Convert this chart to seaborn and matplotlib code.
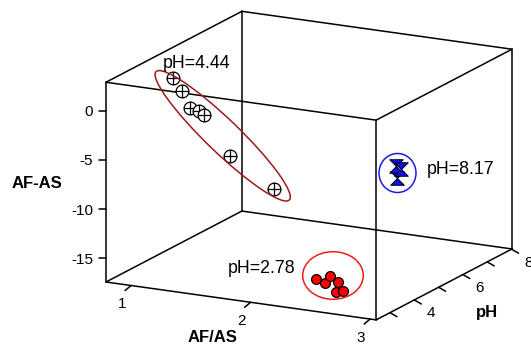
import numpy as np
import matplotlib
matplotlib.use("Agg")
import matplotlib.pyplot as plt
import matplotlib.transforms as mtransforms
from matplotlib.patches import Ellipse
from matplotlib.lines import Line2D
from matplotlib.path import Path
from mpl_toolkits.mplot3d import proj3d
import seaborn as sns

W, H = 531, 348

# AF/AS ratio and AF-AS difference per sample, grouped by pH
ratio_ph444 = [0.94, 1.02, 1.08, 1.16, 1.20, 1.42, 1.79]
diff_ph444 = [1.0, -0.15, -1.8, -2.0, -2.3, -6.1, -8.85]
ratio_ph278 = [2.48, 2.59, 2.55, 2.66, 2.64, 2.70]
diff_ph278 = [-14.7, -14.2, -15.0, -14.7, -15.7, -15.5]
ratio_ph817 = [2.05, 2.09, 2.06]
diff_ph817 = [-10.85, -11.1, -12.1]
ph_values = [4.44, 2.78, 8.17]

XLIM = (0.79, 3.05)
YLIM = (2.43, 8.02)
ZLIM = (-17.4, 2.9)
x_ticks = [1, 2, 3]
y_ticks = [3, 4, 5, 6, 7, 8]
y_ticklabels = ["", "4", "", "6", "", "8"]
z_ticks = [0, -5, -10, -15]

sns.set_theme(style="white")
plt.rcParams["font.family"] = ["Liberation Sans", "DejaVu Sans"]
plt.rcParams["text.color"] = "black"

fig = plt.figure(figsize=(W / 100, H / 100), dpi=100)
ax = fig.add_axes([0, 0, 1, 1], projection="3d", proj_type="ortho",
                  computed_zorder=False)
ax.view_init(elev=15.7, azim=-62.6)
ax.set_box_aspect((305, 296, 208))
ax.set_xlim(*XLIM)
ax.set_ylim(*YLIM)
ax.set_zlim(*ZLIM)
ax.set_axis_off()

# place the box so that its corners land where the reference has them
fig.canvas.draw()
M = ax.get_proj()


def frac(x, y, z):
    xs = np.atleast_1d(np.asarray(x, dtype=float))
    ys = np.broadcast_to(np.asarray(y, dtype=float), xs.shape)
    zs = np.broadcast_to(np.asarray(z, dtype=float), xs.shape)
    px, py, _ = proj3d.proj_transform(xs, ys, zs, M)
    return ax.transLimits.transform(np.column_stack([px, py]))


fa = frac(XLIM[0], YLIM[0], ZLIM[0])[0]
fb = frac(XLIM[1], YLIM[1], ZLIM[1])[0]
size = (512 - 106) / (fb[0] - fa[0])
left = 106 - fa[0] * size
bottom = (H - 282) - fa[1] * size
ax.set_position([left / W, bottom / H, size / W, size / H])


def to_px(x, y, z):
    f = frac(x, y, z)[0]
    return left + f[0] * size, bottom + f[1] * size


# wire-frame box
corners = [(x, y, z) for x in XLIM for y in YLIM for z in ZLIM]
for i, a in enumerate(corners):
    for b in corners[i + 1:]:
        if sum(p != q for p, q in zip(a, b)) == 1:
            ax.plot(*zip(a, b), color="black", lw=1.1, zorder=1)

# markers
oplus = Path.make_compound_path(
    Path.unit_circle(),
    Path([[-1, 0], [1, 0], [0, -1], [0, 1]],
         [Path.MOVETO, Path.LINETO, Path.MOVETO, Path.LINETO]))
hourglass = Path([[-1, 1], [1, 1], [-1, -1], [1, -1], [-1, 1]],
                 [Path.MOVETO, Path.LINETO, Path.LINETO, Path.LINETO, Path.CLOSEPOLY])

ax.scatter(ratio_ph444, [ph_values[0]] * len(ratio_ph444), diff_ph444,
           marker=oplus, s=85, facecolor="white", edgecolor="black",
           linewidths=0.9, depthshade=False, zorder=3)
ax.scatter(ratio_ph278, [ph_values[1]] * len(ratio_ph278), diff_ph278,
           marker="o", s=50, facecolor="red", edgecolor="black",
           linewidths=0.9, depthshade=False, zorder=3)
ax.scatter(ratio_ph817, [ph_values[2]] * len(ratio_ph817), diff_ph817,
           marker=hourglass, s=95, facecolor="#1010f0", edgecolor="black",
           linewidths=0.7, depthshade=False, zorder=3)

ident = mtransforms.IdentityTransform()


def tick(base, vec):
    fig.add_artist(Line2D([base[0], base[0] + vec[0]], [base[1], base[1] + vec[1]],
                          color="black", lw=1.1, transform=ident))


tick_fs = 11
for z in z_ticks:
    bx, by = to_px(XLIM[0], YLIM[0], z)
    tick((bx, by), (-7, 0))
    fig.text((bx - 13) / W, by / H, str(z), ha="right", va="center_baseline",
             fontsize=tick_fs)
for x in x_ticks:
    bx, by = to_px(x, YLIM[0], ZLIM[0])
    tick((bx, by), (-6, -5))
    fig.text((bx - 9) / W, (by - 17) / H, str(x), ha="center",
             va="center_baseline", fontsize=tick_fs)
for y, lab in zip(y_ticks, y_ticklabels):
    bx, by = to_px(XLIM[1], y, ZLIM[0])
    tick((bx, by), (7, -4))
    if lab:
        fig.text((bx + 17) / W, (by - 12) / H, lab, ha="center",
                 va="center_baseline", fontsize=tick_fs)

# axis titles
fig.text(37 / W, 1 - 184 / H, "AF-AS", ha="center", va="center",
         fontsize=12, fontweight="bold")
fig.text(213 / W, 1 - 337 / H, "AF/AS", ha="center", va="center",
         fontsize=12, fontweight="bold")
fig.text(487 / W, 1 - 313 / H, "pH", ha="center", va="center",
         fontsize=12, fontweight="bold")

# group outlines and labels (image pixel coords)
outlines = [
    ((222.7, 135.8), 185, 33, -43.9, "#9b1b1b"),
    ((333.0, 275.5), 60.6, 47.6, 0, "#ee1c1c"),
    ((397.5, 173.0), 37, 39, 0, "#1a1aee"),
]
for (cx, cy), w, h, ang, col in outlines:
    fig.add_artist(Ellipse((cx, H - cy), w, h, angle=ang, fill=False,
                           edgecolor=col, lw=1.1, transform=ident))

group_labels = [(163, 67.7, "pH=4.44"), (427, 174, "pH=8.17"), (228, 273.3, "pH=2.78")]
for x, y, s in group_labels:
    fig.text(x / W, 1 - y / H, s, ha="left", va="baseline", fontsize=12.8)

fig.savefig("out.png", dpi=100)
